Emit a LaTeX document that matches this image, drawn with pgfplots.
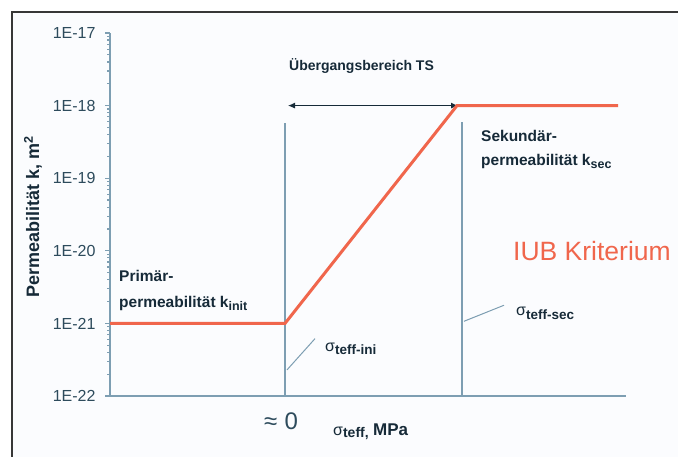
\documentclass[border=0pt]{standalone}
\usepackage{pgfplots}
\pgfplotsset{compat=1.18}
\usetikzlibrary{arrows.meta}
\usepackage{fontspec}
\setmainfont{Liberation Sans}
\definecolor{axiscol}{RGB}{125,158,178}
\definecolor{tickcol}{RGB}{45,75,92}
\definecolor{txtcol}{RGB}{22,42,56}
\definecolor{orng}{RGB}{240,102,76}
\definecolor{bgcol}{RGB}{251,252,254}
\definecolor{framecol}{RGB}{55,55,55}
\pgfplotstableread{
x y
0 1e-21
175 1e-21
347 1e-18
508 1e-18
}\iubdata
\begin{document}
\begin{tikzpicture}[x=1pt,y=1pt]
\useasboundingbox (0,0) rectangle (678,-457);
\fill[bgcol] (12,-12) rectangle (678,-457);
\draw[framecol,line width=1.4pt] (678,-12) -- (12,-12) -- (12,-457);
\begin{axis}[
  at={(110pt,-396pt)}, anchor=south west,
  scale only axis, width=516pt, height=363pt,
  xmin=0, xmax=516,
  ymode=log, ymin=1e-22, ymax=1e-17,
  axis x line*=bottom, axis y line*=left,
  axis line style={axiscol,line width=1.3pt,-},
  xtick=\empty,
  ytick={1e-22,1e-21,1e-20,1e-19,1e-18,1e-17},
  yticklabels={1E-22,1E-21,1E-20,1E-19,1E-18,1E-17},
  minor ytick={},
  tick align=outside,
  major tick length=5pt,
  every tick/.style={axiscol,line width=1.2pt},
  yticklabel style={font=\fontsize{16}{18}\selectfont,text=tickcol,xshift=-6pt},
  /pgf/number format/assume math mode=true,
  clip=false,
]
\addplot[axiscol,line width=1.3pt] coordinates {(175,1e-22) (175,5.7e-19)};
\addplot[axiscol,line width=1.3pt] coordinates {(352,1e-22) (352,5.9e-19)};
\addplot[axiscol,line width=1pt] coordinates {(177,2.29e-22) (205,6.17e-22)};
\addplot[axiscol,line width=1pt] coordinates {(354,1.07e-21) (394,1.78e-21)};
\addplot[txtcol,line width=1pt,{Latex[length=7pt,width=6pt]}-{Latex[length=7pt,width=6pt]}] coordinates {(178,1e-18) (348,1e-18)};
\addplot[orng,line width=3pt] table[x=x,y=y] {\iubdata};
\end{axis}
\node[anchor=center,rotate=90,text=txtcol,font=\bfseries\fontsize{18}{20}\selectfont] at (33,-217) {Permeabilität k, m\textsuperscript{2}};
\node[anchor=base west,inner sep=0,text=txtcol,font=\bfseries\fontsize{14}{16}\selectfont] at (289,-71) {Übergangsbereich TS};
\node[anchor=base west,inner sep=0,text=txtcol,font=\bfseries\fontsize{15.5}{18}\selectfont] at (481,-142) {Sekundär-};
\node[anchor=base west,inner sep=0,text=txtcol,font=\bfseries\fontsize{15.5}{18}\selectfont] at (481,-166) {permeabilität k\raisebox{-3pt}{\fontsize{12.5}{14}\selectfont sec}};
\node[anchor=base west,inner sep=0,text=txtcol,font=\bfseries\fontsize{15.5}{18}\selectfont] at (119,-282) {Primär-};
\node[anchor=base west,inner sep=0,text=txtcol,font=\bfseries\fontsize{15.5}{18}\selectfont] at (119,-308) {permeabilität k\raisebox{-3pt}{\fontsize{12.5}{14}\selectfont init}};
\node[anchor=base west,inner sep=0,text=orng,font=\fontsize{26.5}{30}\selectfont] at (513,-261) {IUB Kriterium};
\node[anchor=base west,inner sep=0,text=txtcol,font=\fontsize{16}{18}\selectfont] at (325,-352) {σ\raisebox{-3pt}{\bfseries\fontsize{13.5}{15}\selectfont teff-ini}};
\node[anchor=base west,inner sep=0,text=txtcol,font=\fontsize{16}{18}\selectfont] at (516,-316) {σ\raisebox{-4pt}{\bfseries\fontsize{13.5}{15}\selectfont teff-sec}};
\node[anchor=base west,inner sep=0,text=tickcol,font=\fontsize{24}{27}\selectfont] at (264,-429) {≈\hspace{0.3em}0};
\node[anchor=base west,inner sep=0,text=txtcol,font=\fontsize{16}{18}\selectfont] at (333,-435) {σ\raisebox{-2pt}{\bfseries\fontsize{14}{16}\selectfont teff,} \bfseries\fontsize{17}{19}\selectfont MPa};
\end{tikzpicture}
\end{document}
